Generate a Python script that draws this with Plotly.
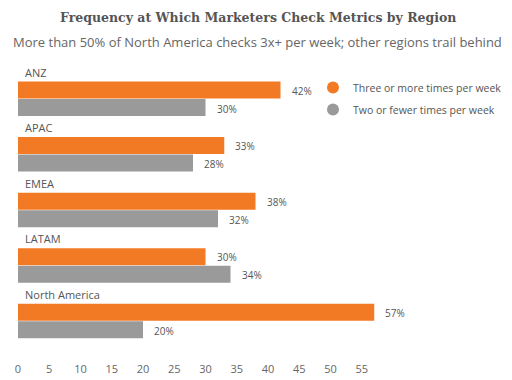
import plotly.graph_objects as go

regions = ["ANZ", "APAC", "EMEA", "LATAM", "North America"]
three_plus = [42, 33, 38, 30, 57]
two_fewer = [30, 28, 32, 34, 20]
series_names = ["Three or more times per week", "Two or fewer times per week"]
tick_vals = [0, 5, 10, 15, 20, 25, 30, 35, 40, 45, 50, 55]

ORANGE = "#F37A24"
GRAY = "#9A9A9A"
TXT = "#555555"
FONT = "Open Sans"

L, R, T, B = 18, 5, 71, 23
PW = 512 - L - R
PH = 380 - T - B

fig = go.Figure()
fig.add_trace(go.Bar(y=regions, x=three_plus, orientation="h", name=series_names[0],
                     marker=dict(color=ORANGE, line=dict(width=0)), showlegend=False))
fig.add_trace(go.Bar(y=regions, x=two_fewer, orientation="h", name=series_names[1],
                     marker=dict(color=GRAY, line=dict(width=0)), showlegend=False))
# legend entries with circular symbols
for nm, col in zip(series_names, [ORANGE, GRAY]):
    fig.add_trace(go.Scatter(x=[None], y=[None], mode="markers", name=nm, legendgroup=nm,
                             marker=dict(color=col, size=11, symbol="circle")))

ann = []
for i, r in enumerate(regions):
    ann.append(dict(x=0, y=r, xref="x", yref="y", text=r, showarrow=False,
                    xanchor="left", yanchor="middle", xshift=5, yshift=26.5,
                    font=dict(family=FONT, size=11, color=TXT)))
    ann.append(dict(x=three_plus[i], y=r, xref="x", yref="y", text=f"{three_plus[i]}%",
                    showarrow=False, xanchor="left", yanchor="middle", xshift=9, yshift=8,
                    font=dict(family=FONT, size=10, color=TXT)))
    ann.append(dict(x=two_fewer[i], y=r, xref="x", yref="y", text=f"{two_fewer[i]}%",
                    showarrow=False, xanchor="left", yanchor="middle", xshift=9, yshift=-10,
                    font=dict(family=FONT, size=10, color=TXT)))

cx = L + PW / 2
ann.append(dict(x=0.5, y=1, xref="paper", yref="paper", yanchor="middle", xanchor="center",
                showarrow=False, xshift=258 - cx, yshift=T - 17,
                text="<b>Frequency at Which Marketers Check Metrics by Region</b>",
                font=dict(family="DejaVu Serif", size=12.5, color="#555555")))
ann.append(dict(x=0.5, y=1, xref="paper", yref="paper", yanchor="middle", xanchor="center",
                showarrow=False, xshift=257 - cx, yshift=T - 42,
                text="More than 50% of North America checks 3x+ per week; other regions trail behind",
                font=dict(family=FONT, size=13, color="#666666")))

fig.update_layout(
    width=512, height=380,
    margin=dict(l=L, r=R, t=T, b=B, autoexpand=False),
    paper_bgcolor="white", plot_bgcolor="white",
    barmode="group", bargap=0.37, bargroupgap=0.03,
    showlegend=True,
    legend=dict(x=(313 - L) / PW, y=1 - (73 - T) / PH, xanchor="left", yanchor="top",
                font=dict(family=FONT, size=10.5, color=TXT),
                itemsizing="constant", tracegroupgap=3, bgcolor="rgba(0,0,0,0)"),
    annotations=ann,
    xaxis=dict(range=[0, PW / 6.25], tickvals=tick_vals, showgrid=False, zeroline=False,
               showline=False, ticks="", ticklabelstandoff=4,
               tickfont=dict(family=FONT, size=11, color="#666666")),
    yaxis=dict(autorange="reversed", showticklabels=False, showgrid=False,
               zeroline=False, showline=False, ticks=""),
)

fig.write_html("out.html", config={"displayModeBar": False},
               post_script="document.body.style.margin='0';document.body.style.overflow='hidden';")
